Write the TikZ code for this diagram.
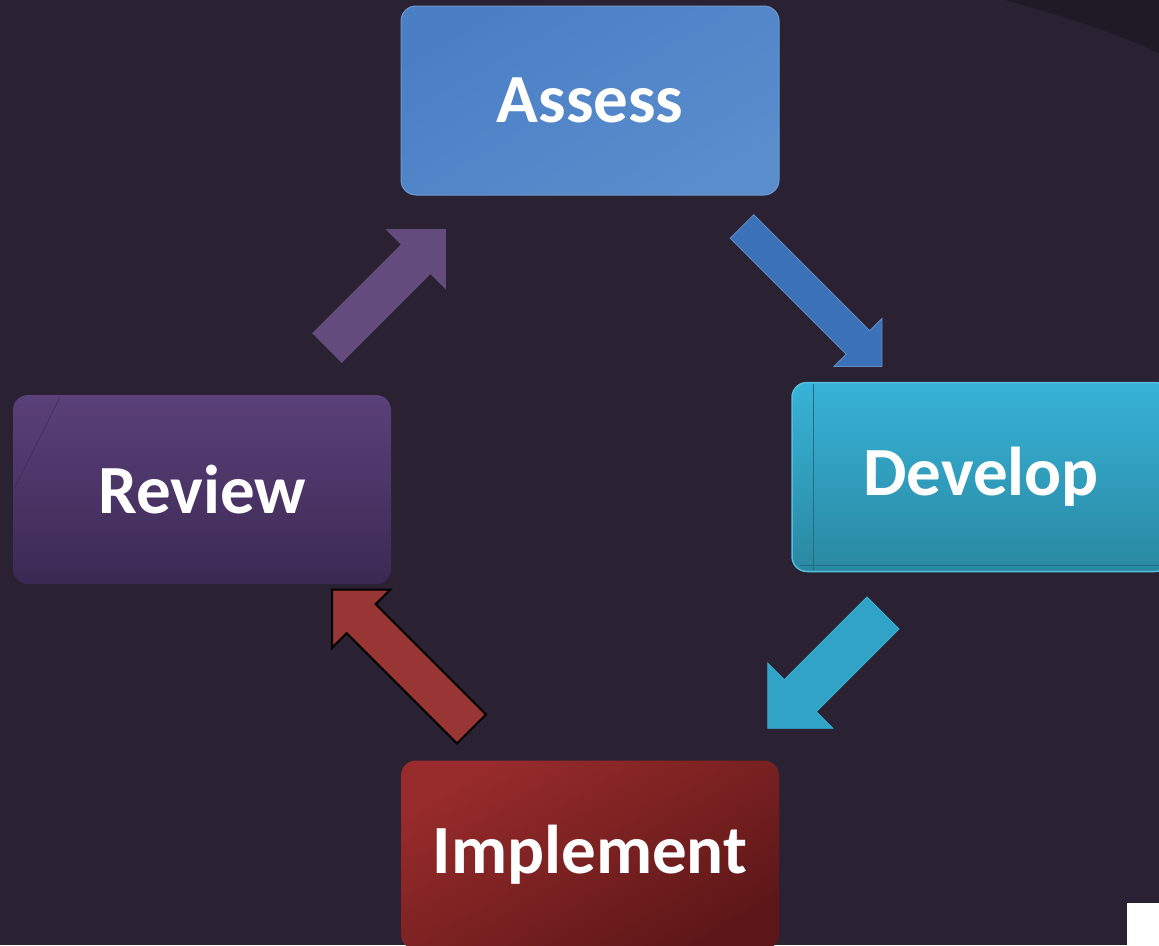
\documentclass[tikz,border=0pt]{standalone}
\usepackage{fontspec}
\setmainfont{Carlito}
\usepackage{tikz}

\definecolor{bgcol}{HTML}{2A2233}
\definecolor{bgdark}{HTML}{1F1A26}
\definecolor{assesstop}{HTML}{4A7FC6}
\definecolor{assessbot}{HTML}{5A8DCC}
\definecolor{devtop}{HTML}{37B3D8}
\definecolor{devbot}{HTML}{2A88A1}
\definecolor{revtop}{HTML}{5B4079}
\definecolor{revbot}{HTML}{3B2953}
\definecolor{impltop}{HTML}{982B2B}
\definecolor{implbot}{HTML}{5E1718}
\definecolor{arrowpurple}{HTML}{634B7E}
\definecolor{arrowblue}{HTML}{3A71B8}
\definecolor{arrowcyan}{HTML}{30A3C6}
\definecolor{arrowred}{HTML}{973634}

\tikzset{
  stagebox/.style={rounded corners=15pt, minimum width=378pt, minimum height=189pt,
    inner sep=0pt, text=white, font=\fontsize{69}{80}\selectfont\bfseries},
  % block arrow: length, half shaft width, half head width
  pics/blockarrow/.style n args={3}{code={
    \path[pic actions] (0,-#2) -- ({#1-#3},-#2) -- ({#1-#3},-#3) -- (#1,0)
      -- ({#1-#3},#3) -- ({#1-#3},#2) -- (0,#2) -- cycle;
  }}
}

\begin{document}
\begin{tikzpicture}[x=1pt, y=-1pt]
  \useasboundingbox (0,0) rectangle (1159,945);
  \clip (0,0) rectangle (1159,945);
  \fill[bgcol] (0,0) rectangle (1159,945);
  \fill[bgdark] (1005,0) .. controls (1070,18) and (1120,35) .. (1159,53) -- (1159,0) -- cycle;

  % the four stages
  \node[stagebox, top color=assesstop, bottom color=assessbot, shading angle=30,
    draw=assesstop!80!white, line width=1pt] (assess) at (590,100.5) {Assess};
  \node[stagebox, top color=devtop, bottom color=devbot,
    draw=devtop!85!white, line width=1.5pt] (develop) at (981,477) {Develop};
  \draw[devbot!80!black, line width=0.6pt] (813,384) -- (813,570);
  \draw[devbot!80!black, line width=0.6pt] (800,565) -- (1159,565);
  \node[stagebox, top color=revtop, bottom color=revbot] (review) at (202,489.5) {Review};
  \draw[revtop!70!black, line width=0.5pt] (60,397) -- (15,487);
  \node[stagebox, top color=impltop, bottom color=implbot, shading angle=30] (implement) at (590,855) {Implement};

  % arrows between the stages
  \pic[fill=arrowpurple, rotate=45] (toassess) at (327,348) {blockarrow={168}{21}{42.5}};
  \pic[fill=arrowblue, draw=arrowblue!80!white, line width=0.8pt, rotate=-45] (todevelop) at (742,226.5) {blockarrow={198}{16.6}{34}};
  \pic[fill=arrowcyan, draw=devtop, line width=0.8pt, rotate=-135] (toimplement) at (883,613) {blockarrow={163}{22.6}{46}};
  \pic[fill=arrowred, draw=black, line width=2pt, rotate=135] (toreview) at (471.5,729) {blockarrow={197}{20.5}{41}};

  \fill[white] (1127,903) rectangle (1159,945);
\end{tikzpicture}
\end{document}
